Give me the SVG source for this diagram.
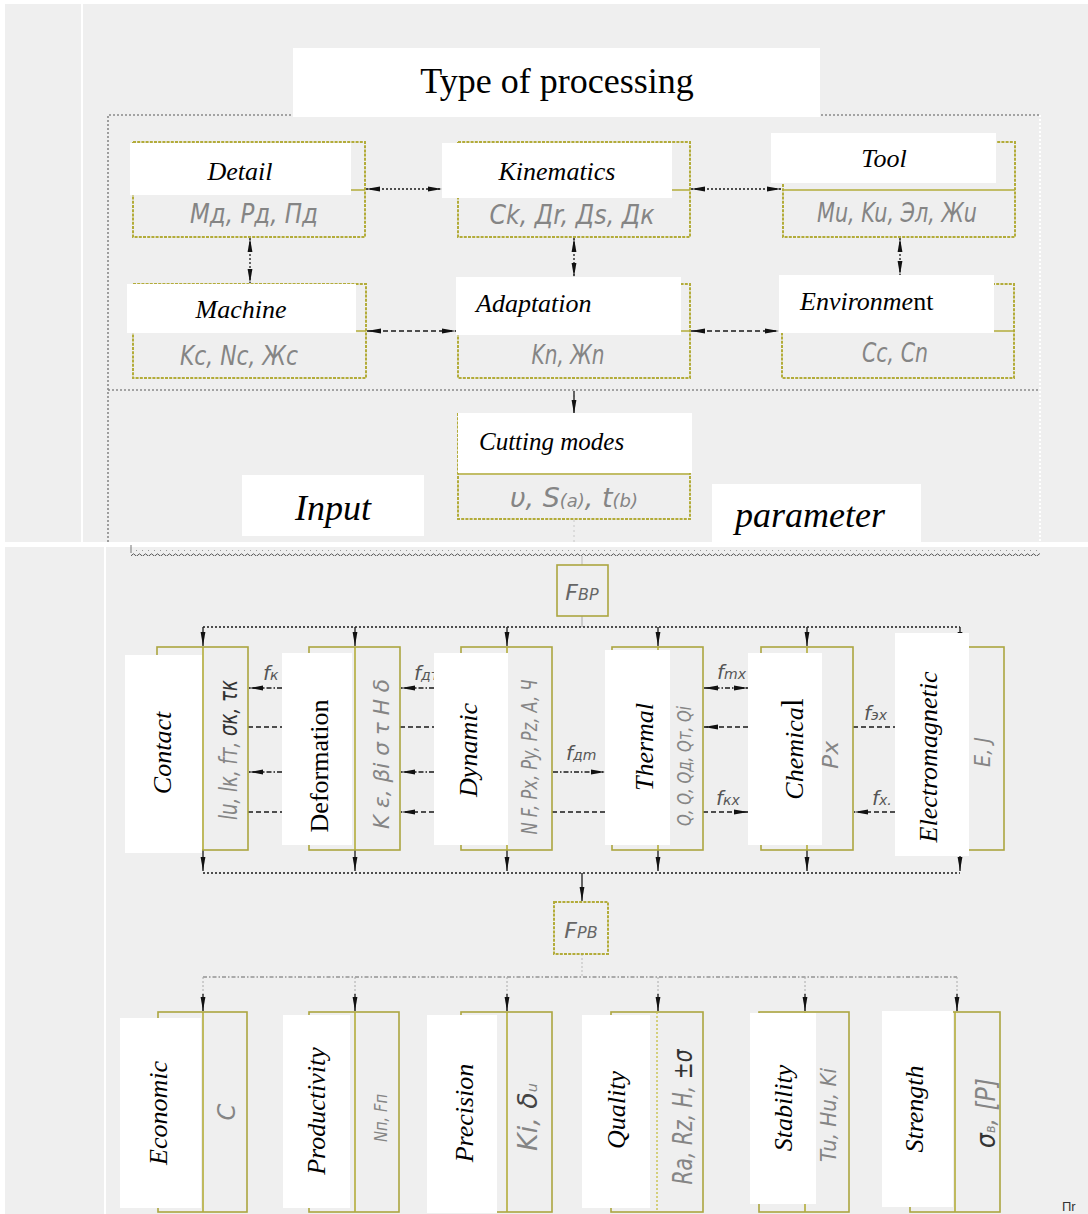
<svg xmlns="http://www.w3.org/2000/svg" width="1088" height="1214" viewBox="0 0 1088 1214">
<defs>
<style>
.box{fill:#efefef;stroke:#b3ac3a;stroke-width:2;stroke-dasharray:3 1.2}
.box2{fill:#efefef;stroke:#aca640;stroke-width:1.6}
.div{stroke:#b3ac3a;stroke-width:1.6}
.lbl{fill:#fff}
.t{font-family:"Liberation Serif",serif;font-style:italic;fill:#000}
.sym{font-family:"DejaVu Sans",sans-serif;font-style:italic;fill:#858585}
.el{font-family:"DejaVu Sans",sans-serif;font-style:italic;fill:#555}
.c{stroke:#1a1a1a;stroke-width:1.3;fill:none}
.dot{stroke-dasharray:2 2}
.dash{stroke-dasharray:5 3}
.dd{stroke-dasharray:5 2 1.5 2}
.fr{stroke:#8a8a8a;stroke-width:1.6;fill:none;stroke-dasharray:2 2}
</style>
<marker id="a" viewBox="0 0 14 6" refX="14" refY="3" markerWidth="14" markerHeight="6" markerUnits="userSpaceOnUse" orient="auto-start-reverse">
<path d="M0,0.6 L14,3 L0,5.4 Z" fill="#111"/>
</marker>
<pattern id="wave" width="6" height="6" patternUnits="userSpaceOnUse">
<path d="M0,3 Q1.5,0.6 3,3 T6,3" stroke="#555" stroke-width="1" fill="none"/>
</pattern>
</defs>

<!-- background -->
<rect x="0" y="0" width="1088" height="1214" fill="#ffffff"/>
<rect x="5" y="4" width="1083" height="538" fill="#efefef"/>
<rect x="5" y="547" width="1083" height="667" fill="#efefef"/>
<line x1="82" y1="4" x2="82" y2="542" stroke="#fff" stroke-width="2"/>
<line x1="105" y1="547" x2="105" y2="1214" stroke="#fff" stroke-width="2"/>

<!-- frame -->
<g id="frame">
<polyline class="fr" points="108,542 108,115 1040,115"/>
<line x1="1040" y1="115" x2="1040" y2="542" stroke="#fff" stroke-width="2" stroke-dasharray="2 2"/>
<line class="fr" x1="108" y1="390" x2="1040" y2="390"/>
<line x1="574" y1="390" x2="574" y2="545" stroke="#c8c8c8" stroke-width="1" stroke-dasharray="2 3"/>
<line x1="131" y1="545" x2="131" y2="553" stroke="#777" stroke-width="1"/>
<rect x="131" y="550" width="909" height="6" fill="url(#wave)"/>
<line x1="582" y1="556" x2="582" y2="565" stroke="#bbb" stroke-width="1"/>
</g>

<!-- connectors -->
<g id="connectors">
<line class="c dot" x1="366" y1="189" x2="442" y2="189" marker-start="url(#a)" marker-end="url(#a)"/>
<line class="c dot" x1="691" y1="189" x2="781" y2="189" marker-start="url(#a)" marker-end="url(#a)"/>
<line class="c dash" x1="367" y1="331" x2="456" y2="331" marker-start="url(#a)" marker-end="url(#a)"/>
<line class="c dash" x1="691" y1="331" x2="779" y2="331" marker-start="url(#a)" marker-end="url(#a)"/>
<line class="c dot" x1="250" y1="238" x2="250" y2="283" marker-start="url(#a)" marker-end="url(#a)"/>
<line class="c dot" x1="574" y1="238" x2="574" y2="277" marker-start="url(#a)" marker-end="url(#a)"/>
<line class="c dot" x1="900" y1="238" x2="900" y2="275" marker-start="url(#a)" marker-end="url(#a)"/>
<line class="c" x1="574" y1="391" x2="574" y2="414" marker-end="url(#a)"/>

<line x1="582" y1="616" x2="582" y2="627" stroke="#aaa" stroke-width="1"/>
<line class="c dot" x1="203" y1="627" x2="960" y2="627"/>
<line class="c" x1="203" y1="627" x2="203" y2="646" marker-end="url(#a)"/>
<line class="c" x1="355" y1="627" x2="355" y2="646" marker-end="url(#a)"/>
<line class="c" x1="507" y1="627" x2="507" y2="646" marker-end="url(#a)"/>
<line class="c" x1="658" y1="627" x2="658" y2="646" marker-end="url(#a)"/>
<line class="c" x1="807" y1="627" x2="807" y2="646" marker-end="url(#a)"/>
<line class="c" x1="960" y1="627" x2="960" y2="646" marker-end="url(#a)"/>

<line class="c dd" x1="282" y1="688" x2="249" y2="688" marker-end="url(#a)"/>
<line class="c dash" x1="248" y1="727" x2="282" y2="727"/>
<line class="c dd" x1="282" y1="772" x2="249" y2="772" marker-end="url(#a)"/>
<line class="c dash" x1="248" y1="812" x2="282" y2="812"/>
<text class="el" x="263" y="680" style="font-size:20px">f<tspan font-size="14">к</tspan></text>

<line class="c dd" x1="434" y1="688" x2="401" y2="688" marker-end="url(#a)"/>
<line class="c dash" x1="400" y1="727" x2="434" y2="727"/>
<line class="c dd" x1="434" y1="772" x2="401" y2="772" marker-end="url(#a)"/>
<line class="c dash" x1="434" y1="812" x2="401" y2="812" marker-end="url(#a)"/>
<text class="el" x="414" y="680" style="font-size:20px">f<tspan font-size="14">дт</tspan></text>

<line class="c dd" x1="553" y1="772" x2="605" y2="772" marker-end="url(#a)"/>
<line class="c dash" x1="552" y1="812" x2="605" y2="812"/>
<text class="el" x="566" y="760" style="font-size:20px">f<tspan font-size="14">дm</tspan></text>

<line class="c dd" x1="704" y1="688" x2="748" y2="688" marker-start="url(#a)" marker-end="url(#a)"/>
<line class="c dash" x1="748" y1="727" x2="704" y2="727" marker-end="url(#a)"/>
<line class="c dash" x1="703" y1="812" x2="748" y2="812" marker-end="url(#a)"/>
<text class="el" x="717" y="679" style="font-size:20px">f<tspan font-size="14">mx</tspan></text>
<text class="el" x="716" y="805" style="font-size:20px">f<tspan font-size="14">кx</tspan></text>

<line class="c dash" x1="853" y1="727" x2="895" y2="727"/>
<line class="c dash" x1="895" y1="812" x2="854" y2="812" marker-end="url(#a)"/>
<text class="el" x="864" y="720" style="font-size:20px">f<tspan font-size="14">эx</tspan></text>
<text class="el" x="872" y="805" style="font-size:20px">f<tspan font-size="14">x.</tspan></text>

<line class="c" x1="203" y1="850" x2="203" y2="871" marker-end="url(#a)"/>
<line class="c" x1="355" y1="850" x2="355" y2="871" marker-end="url(#a)"/>
<line class="c" x1="507" y1="850" x2="507" y2="871" marker-end="url(#a)"/>
<line class="c" x1="658" y1="850" x2="658" y2="871" marker-end="url(#a)"/>
<line class="c" x1="807" y1="850" x2="807" y2="871" marker-end="url(#a)"/>
<line class="c" x1="960" y1="850" x2="960" y2="871" marker-end="url(#a)"/>
<line class="c dot" x1="203" y1="873" x2="960" y2="873"/>
<line class="c" x1="582" y1="873" x2="582" y2="901" marker-end="url(#a)"/>

<line x1="582" y1="954" x2="582" y2="977" stroke="#bbb" stroke-width="1" stroke-dasharray="2 2"/>
<line x1="203" y1="977" x2="957" y2="977" stroke="#666" stroke-width="1.2" stroke-dasharray="4 2 1.5 2"/>
<line x1="203" y1="977" x2="203" y2="1011" stroke="#aaa" stroke-width="1" stroke-dasharray="2 2"/>
<line x1="355" y1="977" x2="355" y2="1011" stroke="#aaa" stroke-width="1" stroke-dasharray="2 2"/>
<line x1="507" y1="977" x2="507" y2="1011" stroke="#aaa" stroke-width="1" stroke-dasharray="2 2"/>
<line x1="658" y1="977" x2="658" y2="1011" stroke="#aaa" stroke-width="1" stroke-dasharray="2 2"/>
<line x1="805" y1="977" x2="805" y2="1011" stroke="#aaa" stroke-width="1" stroke-dasharray="2 2"/>
<line x1="957" y1="977" x2="957" y2="1011" stroke="#aaa" stroke-width="1" stroke-dasharray="2 2"/>
<line class="c" x1="203" y1="994" x2="203" y2="1011" marker-end="url(#a)"/>
<line class="c" x1="355" y1="994" x2="355" y2="1011" marker-end="url(#a)"/>
<line class="c" x1="507" y1="994" x2="507" y2="1011" marker-end="url(#a)"/>
<line class="c" x1="658" y1="994" x2="658" y2="1011" marker-end="url(#a)"/>
<line class="c" x1="805" y1="994" x2="805" y2="1011" marker-end="url(#a)"/>
<line class="c" x1="957" y1="994" x2="957" y2="1011" marker-end="url(#a)"/>
</g>

<g id="title">
<rect class="lbl" x="293" y="48" width="527" height="69"/>
<text x="557" y="93" text-anchor="middle" font-family="Liberation Serif, serif" font-size="36" fill="#000">Type of processing</text>
</g>

<g id="detail">
<rect class="box" x="133" y="142" width="232" height="95"/>
<line class="div" x1="133" y1="190" x2="365" y2="190"/>
<rect class="lbl" x="130" y="143" width="221" height="52"/>
<text class="t" x="240" y="180" text-anchor="middle" style="font-size:26px">Detail</text>
<text class="sym" x="254" y="223" text-anchor="middle" style="font-size:27px" textLength="128" lengthAdjust="spacingAndGlyphs">Мд, Рд, Пд</text>
</g>
<g id="kinematics">
<rect class="box" x="458" y="142" width="232" height="95"/>
<line class="div" x1="458" y1="190" x2="690" y2="190"/>
<rect class="lbl" x="442" y="143" width="230" height="55"/>
<text class="t" x="557" y="180" text-anchor="middle" style="font-size:26px">Kinematics</text>
<text class="sym" x="572" y="224" text-anchor="middle" style="font-size:27px" textLength="165" lengthAdjust="spacingAndGlyphs">Ck, Дr, Дs, Дк</text>
</g>
<g id="tool">
<rect class="box" x="783" y="142" width="232" height="95"/>
<line class="div" x1="783" y1="190" x2="1015" y2="190"/>
<rect class="lbl" x="771" y="133" width="225" height="50"/>
<text class="t" x="884" y="167" text-anchor="middle" style="font-size:26px">Tool</text>
<text class="sym" x="897" y="222" text-anchor="middle" style="font-size:27px" textLength="160" lengthAdjust="spacingAndGlyphs">Mu, Ku, Эл, Жu</text>
</g>
<g id="machine">
<rect class="box" x="133" y="284" width="233" height="94"/>
<line class="div" x1="133" y1="331" x2="366" y2="331"/>
<rect class="lbl" x="127" y="284" width="229" height="49"/>
<text class="t" x="241" y="318" text-anchor="middle" style="font-size:26px">Machine</text>
<text class="sym" x="239" y="365" text-anchor="middle" style="font-size:27px" textLength="118" lengthAdjust="spacingAndGlyphs">Kc, Nc, Жc</text>
</g>
<g id="adaptation">
<rect class="box" x="458" y="284" width="232" height="94"/>
<line class="div" x1="458" y1="331" x2="690" y2="331"/>
<rect class="lbl" x="456" y="277" width="225" height="58"/>
<text class="t" x="476" y="312" style="font-size:26px">Adaptation</text>
<text class="sym" x="568" y="364" text-anchor="middle" style="font-size:27px" textLength="73" lengthAdjust="spacingAndGlyphs">Kn, Жn</text>
</g>
<g id="environment">
<rect class="box" x="782" y="284" width="232" height="94"/>
<line class="div" x1="782" y1="331" x2="1014" y2="331"/>
<rect class="lbl" x="779" y="275" width="215" height="58"/>
<text class="t" x="800" y="310" style="font-size:26px">Environme<tspan style="font-style:normal">nt</tspan></text>
<text class="sym" x="895" y="362" text-anchor="middle" style="font-size:27px" textLength="66" lengthAdjust="spacingAndGlyphs">Cc, Cn</text>
</g>
<g id="cutting-modes">
<rect class="box" x="458" y="414" width="232" height="105"/>
<line class="div" x1="458" y1="474" x2="690" y2="474"/>
<rect class="lbl" x="458" y="413" width="234" height="60"/>
<text class="t" x="479" y="450" style="font-size:25px">Cutting modes</text>
<text class="sym" x="574" y="507" text-anchor="middle" style="font-size:27px" textLength="128" lengthAdjust="spacingAndGlyphs">υ, S<tspan font-size="18">(a)</tspan>, t<tspan font-size="18">(b)</tspan></text>
</g>
<g id="input-label">
<rect class="lbl" x="242" y="475" width="182" height="61"/>
<text class="t" x="333" y="520" text-anchor="middle" style="font-size:36px">Input</text>
</g>
<g id="parameter-label">
<rect class="lbl" x="712" y="484" width="209" height="61"/>
<text class="t" x="810" y="527" text-anchor="middle" style="font-size:36px">parameter</text>
</g>

<g id="fbp">
<rect class="box2" x="557" y="565" width="51" height="51"/>
<text class="sym" x="582" y="600" text-anchor="middle" style="font-size:22px;fill:#666">F<tspan font-size="16">BP</tspan></text>
</g>
<g id="fpb">
<rect class="box" x="554" y="902" width="54" height="52"/>
<text class="sym" x="581" y="938" text-anchor="middle" style="font-size:22px;fill:#666">F<tspan font-size="16">PB</tspan></text>
</g>

<g id="contact">
<rect class="box2" x="157" y="647" width="91" height="203"/>
<line class="div" x1="203" y1="647" x2="203" y2="850"/>
<rect class="lbl" x="125" y="655" width="77" height="198"/>
<text class="t" transform="translate(171,753) rotate(-90)" text-anchor="middle" style="font-size:26px">Contact</text>
<text class="sym" transform="translate(237,750) rotate(-90)" text-anchor="middle" style="font-size:24px" textLength="140" lengthAdjust="spacingAndGlyphs">lu, lк, fт, <tspan fill="#333">σк, τк</tspan></text>
</g>
<g id="deformation">
<rect class="box2" x="309" y="647" width="91" height="203"/>
<line class="div" x1="355" y1="647" x2="355" y2="850"/>
<rect class="lbl" x="282" y="653" width="70" height="192"/>
<text class="t" transform="translate(328,766) rotate(-90)" text-anchor="middle" style="font-size:26px;font-style:normal">Deformation</text>
<text class="sym" transform="translate(389,754) rotate(-90)" text-anchor="middle" style="font-size:22px" textLength="150" lengthAdjust="spacingAndGlyphs">K ε, βi σ τ H δ</text>
</g>
<g id="dynamic">
<rect class="box2" x="461" y="647" width="91" height="203"/>
<line class="div" x1="507" y1="647" x2="507" y2="850"/>
<rect class="lbl" x="434" y="653" width="74" height="192"/>
<text class="t" transform="translate(477,750) rotate(-90)" text-anchor="middle" style="font-size:26px">Dynamic</text>
<text class="sym" transform="translate(537,757) rotate(-90)" text-anchor="middle" style="font-size:22px" textLength="155" lengthAdjust="spacingAndGlyphs">N F, Px, Py, Pz, A, Ч</text>
</g>
<g id="thermal">
<rect class="box2" x="612" y="647" width="91" height="203"/>
<line class="div" x1="658" y1="647" x2="658" y2="850"/>
<rect class="lbl" x="605" y="650" width="65" height="195"/>
<text class="t" transform="translate(653,747) rotate(-90)" text-anchor="middle" style="font-size:26px">Thermal</text>
<text class="sym" transform="translate(691,766) rotate(-90)" text-anchor="middle" style="font-size:20px" textLength="120" lengthAdjust="spacingAndGlyphs">Q, Q, Qд, Qт, Qi</text>
</g>
<g id="chemical">
<rect class="box2" x="761" y="647" width="92" height="203"/>
<line class="div" x1="807" y1="647" x2="807" y2="850"/>
<rect class="lbl" x="748" y="653" width="74" height="192"/>
<text class="t" transform="translate(803,749) rotate(-90)" text-anchor="middle" style="font-size:26px">Chemica<tspan style="font-style:normal;font-size:32px">l</tspan></text>
<text class="sym" transform="translate(838,755) rotate(-90)" text-anchor="middle" style="font-size:22px" textLength="28" lengthAdjust="spacingAndGlyphs">Px</text>
</g>
<g id="electromagnetic">
<rect class="box2" x="913" y="647" width="91" height="203"/>
<line class="div" x1="960" y1="647" x2="960" y2="850"/>
<rect class="lbl" x="895" y="633" width="74" height="223"/>
<text class="t" transform="translate(937,757) rotate(-90)" text-anchor="middle" style="font-size:26px">Electromagnetic</text>
<text class="sym" transform="translate(990,752) rotate(-90)" text-anchor="middle" style="font-size:22px" textLength="30" lengthAdjust="spacingAndGlyphs">E, J</text>
</g>

<g id="economic">
<rect class="box2" x="158" y="1012" width="89" height="200"/>
<line class="div" x1="203" y1="1012" x2="203" y2="1212"/>
<rect class="lbl" x="120" y="1018" width="81" height="190"/>
<text class="t" transform="translate(167,1113) rotate(-90)" text-anchor="middle" style="font-size:26px">Economic</text>
<text class="sym" transform="translate(235,1112) rotate(-90)" text-anchor="middle" style="font-size:24px">C</text>
</g>
<g id="productivity">
<rect class="box2" x="309" y="1012" width="90" height="200"/>
<line class="div" x1="355" y1="1012" x2="355" y2="1212"/>
<rect class="lbl" x="283" y="1015" width="67" height="193"/>
<text class="t" transform="translate(325,1111) rotate(-90)" text-anchor="middle" style="font-size:26px">Productivity</text>
<text class="sym" transform="translate(387,1118) rotate(-90)" text-anchor="middle" style="font-size:18px" textLength="48" lengthAdjust="spacingAndGlyphs">Nп, Fп</text>
</g>
<g id="precision">
<rect class="box2" x="461" y="1012" width="91" height="200"/>
<line class="div" x1="507" y1="1012" x2="507" y2="1212"/>
<rect class="lbl" x="427" y="1015" width="70" height="198"/>
<text class="t" transform="translate(473,1113) rotate(-90)" text-anchor="middle" style="font-size:26px">Precision</text>
<text class="sym" transform="translate(537,1117) rotate(-90)" text-anchor="middle" style="font-size:26px" textLength="68" lengthAdjust="spacingAndGlyphs">Ki, <tspan fill="#444">δ</tspan><tspan font-size="14">u</tspan></text>
</g>
<g id="quality">
<rect class="box2" x="611" y="1012" width="92" height="200"/>
<line x1="657" y1="1012" x2="657" y2="1212" stroke="#c9c24a" stroke-width="1.4" stroke-dasharray="2 2"/>
<rect class="lbl" x="582" y="1015" width="68" height="193"/>
<text class="t" transform="translate(625,1110) rotate(-90)" text-anchor="middle" style="font-size:26px">Quality</text>
<text class="sym" transform="translate(692,1117) rotate(-90)" text-anchor="middle" style="font-size:26px" textLength="135" lengthAdjust="spacingAndGlyphs">Ra, Rz, H, <tspan fill="#333">±σ</tspan></text>
</g>
<g id="stability">
<rect class="box2" x="759" y="1012" width="90" height="200"/>
<line class="div" x1="805" y1="1012" x2="805" y2="1212"/>
<rect class="lbl" x="750" y="1013" width="66" height="191"/>
<text class="t" transform="translate(792,1108) rotate(-90)" text-anchor="middle" style="font-size:26px">Stability</text>
<text class="sym" transform="translate(836,1115) rotate(-90)" text-anchor="middle" style="font-size:22px" textLength="94" lengthAdjust="spacingAndGlyphs">Tu, Hu, Ki</text>
</g>
<g id="strength">
<rect class="box2" x="910" y="1012" width="90" height="200"/>
<line class="div" x1="955" y1="1012" x2="955" y2="1212"/>
<rect class="lbl" x="882" y="1011" width="71" height="196"/>
<text class="t" transform="translate(923,1109) rotate(-90)" text-anchor="middle" style="font-size:26px">Strength</text>
<text class="sym" transform="translate(995,1113) rotate(-90)" text-anchor="middle" style="font-size:26px" textLength="70" lengthAdjust="spacingAndGlyphs"><tspan fill="#333">σ</tspan><tspan font-size="14">в</tspan>, [P]</text>
</g>

<text x="1062" y="1211" font-family="Liberation Sans, sans-serif" font-size="13" fill="#333">Пr</text>
</svg>
